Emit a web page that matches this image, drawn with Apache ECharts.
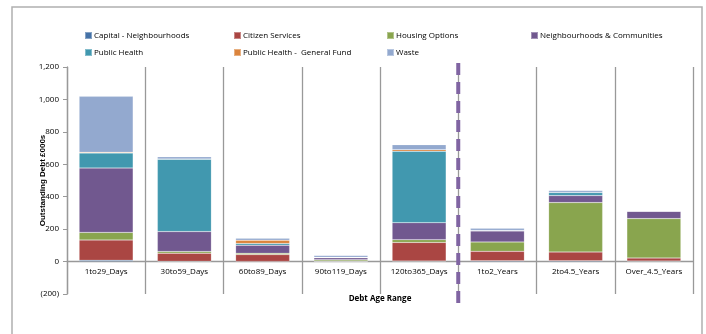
<!DOCTYPE html>
<html>
<head>
<meta charset="utf-8">
<script src="https://cdn.jsdelivr.net/npm/echarts@6/dist/echarts.min.js"></script>
<style>html,body{margin:0;padding:0;background:#fff}#c{width:706px;height:334px}</style>
</head>
<body>
<div id="c"></div>
<script>
const categories = ["1to29_Days","30to59_Days","60to89_Days","90to119_Days","120to365_Days","1to2_Years","2to4.5_Years","Over_4.5_Years"];
const seriesNames = ["Capital - Neighbourhoods","Citizen Services","Housing Options","Neighbourhoods & Communities","Public Health","Public Health -  General Fund","Waste"];
const capital = [8, 2, 1, 0, 3, 5, 5, 3];
const citizen = [125, 50, 42, 3, 115, 58, 54, 19];
const housing = [47, 10, 8, 8, 17, 58, 305, 243];
const neighbourhoods = [397, 123, 50, 12, 105, 68, 43, 45];
const publicHealth = [92, 446, 10, 3, 440, 3, 19, 0];
const phGeneralFund = [5, 2, 21, 0, 10, 0, 0, 0];
const waste = [345, 13, 12, 12, 31, 13, 12, 0];
const yTicks = {min: -200, max: 1200, interval: 200};
const dividerAt = [5];

const colors = ["#4572A7","#AA4643","#89A54E","#71588F","#4198AF","#DB843D","#93A9CF"];
const values = [capital, citizen, housing, neighbourhoods, publicHealth, phGeneralFund, waste];
const font = "'Open Sans', 'Noto Sans', sans-serif";

const gridTop = 67, gridBottom = 40, H = 334;
const plotH = H - gridTop - gridBottom;
const zeroOffset = plotH * (0 - yTicks.min) / (yTicks.max - yTicks.min);

const legendPos = [[84,31],[233,31],[386,31],[530,31],[84,48],[233,48],[386,48]];
const legends = seriesNames.map((n,i)=>({
  data:[n], left: legendPos[i][0], top: legendPos[i][1], padding:0,
  itemWidth:7, itemHeight:7, itemGap:0, icon:'rect',
  textStyle:{fontSize:8, color:'#000', fontFamily:font, padding:[0,0,0,-3]}
}));

const chart = echarts.init(document.getElementById('c'), null, {renderer:'canvas'});
chart.setOption({
  animation:false,
  color: colors,
  legend: legends,
  graphic:[{type:'rect', shape:{x:12, y:7, width:690, height:340}, style:{fill:'none', stroke:'#b0b0b0', lineWidth:1.5}, silent:true}],
  grid:[
    {left:67, right:13, top:gridTop, bottom:gridBottom, containLabel:false, outerBoundsMode:'none'},
    {left:67, right:13, top:62, bottom:31, containLabel:false, outerBoundsMode:'none'}
  ],
  xAxis:[
    {type:'category', data:categories, gridIndex:0, offset:-zeroOffset,
     axisLine:{onZero:false, lineStyle:{color:'#999', width:1.3}},
     axisTick:{show:false},
     axisLabel:{fontSize:8, color:'#000', fontFamily:font, margin:6, interval:0},
     splitLine:{show:true, lineStyle:{color:'#999', width:1.3}},
     name:'Debt Age Range', nameLocation:'middle', nameGap:zeroOffset+1, nameMoveOverlap:false,
     nameTextStyle:{fontSize:8, fontWeight:'bold', color:'#000', fontFamily:font}},
    {type:'value', gridIndex:1, min:0, max:categories.length, show:false}
  ],
  yAxis:[
    {type:'value', gridIndex:0, min:yTicks.min, max:yTicks.max, interval:yTicks.interval,
     axisLine:{show:true, onZero:false, lineStyle:{color:'#999', width:1.3}},
     axisTick:{show:true, length:4, lineStyle:{color:'#999'}},
     splitLine:{show:false},
     axisLabel:{fontSize:8, color:'#000', fontFamily:font, margin:8,
       formatter:v=>{const s=Math.abs(v).toLocaleString('en-US'); return v<0?'('+s+')':s;}},
     name:'Outstanding Debt £000s', nameLocation:'middle', nameGap:20, nameRotate:90, nameMoveOverlap:false,
     nameTextStyle:{fontSize:8, fontWeight:'bold', color:'#000', fontFamily:"'Liberation Sans Narrow', 'Liberation Sans', sans-serif"}},
    {type:'value', gridIndex:1, min:0, max:1, show:false}
  ],
  series: seriesNames.map((n,i)=>({
    name:n, type:'bar', stack:'total', xAxisIndex:0, yAxisIndex:0,
    data: values[i], barWidth:'69%',
    itemStyle:{color:colors[i], borderColor:'rgba(255,255,255,0.35)', borderWidth:0.5}
  })).concat([{
    name:'divider', type:'line', xAxisIndex:1, yAxisIndex:1,
    data: dividerAt.flatMap(x=>[[x,0],[x,1]]), symbol:'none',
    lineStyle:{color:'#8064A2', width:4, type:[12,7]}, silent:true
  }])
});
</script>
</body>
</html>
